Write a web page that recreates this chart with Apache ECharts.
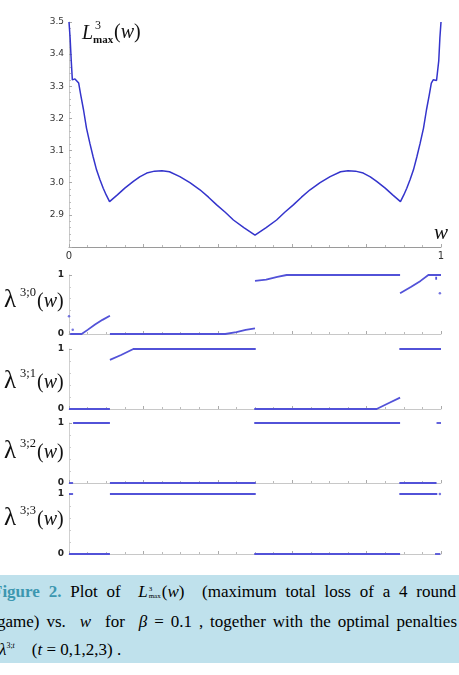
<!DOCTYPE html>
<html lang="en">
<head>
<meta charset="UTF-8">
<title>Figure 2</title>
<script src="https://cdn.jsdelivr.net/npm/echarts@6/dist/echarts.min.js"></script>
<style>
body{margin:0;padding:0;background:#fff;width:459px;height:675px;overflow:hidden;position:relative}
#main{position:absolute;left:0;top:0;width:459px;height:570px}
#caption{position:absolute;left:0;top:575px;width:459px;height:88px;background:#bfe1ec;overflow:hidden}
#caption div.ln{position:absolute;white-space:nowrap;font-family:"Liberation Serif",serif;font-size:17px;color:#000;text-align:justify;text-align-last:justify}
.fig{color:#3c97b0;font-weight:bold}
.ss{display:inline-block;vertical-align:middle;font-size:7px;line-height:7px;text-align:center;margin:0 1px}
</style>
</head>
<body>
<div id="main"></div>
<div id="caption">
  <div class="ln" style="left:-8px;top:7px;width:464px;"><span class="fig">Figure 2.</span> Plot of &nbsp;<i>L</i><span class="ss">3<br>max</span>(<i>w</i>)&nbsp; (maximum total loss of a 4 round</div>
  <div class="ln" style="left:-3px;top:37px;width:460px;">game) vs. &nbsp;<i>w</i>&nbsp; for &nbsp;<i>β</i> = 0.1 , together with the optimal penalties</div>
  <div class="ln" style="left:-1px;top:65px;text-align:left;text-align-last:left;"><i>λ</i><sup style="font-size:8px">3;<i>t</i></sup> &nbsp;&nbsp; (<i>t</i> = 0,1,2,3) .</div>
</div>
<script type="text/javascript">
// ---- data ----
var wTicks = [0, 1];
var lmaxY = [2.9, 3.0, 3.1, 3.2, 3.3, 3.4, 3.5];

var lmax = [
  [0,3.5],[0.003,3.45],[0.006,3.38],[0.009,3.32],[0.012,3.318],[0.016,3.323],[0.021,3.32],
  [0.026,3.31],[0.032,3.27],[0.039,3.227],[0.047,3.17],[0.056,3.123],[0.065,3.08],[0.074,3.04],
  [0.083,3.01],[0.092,2.983],[0.1,2.962],[0.109,2.941],[0.13,2.962],[0.15,2.983],[0.173,3.004],
  [0.19,3.018],[0.209,3.03],[0.23,3.036],[0.25,3.037],[0.27,3.034],[0.298,3.019],[0.325,3.0],
  [0.352,2.978],[0.375,2.955],[0.397,2.931],[0.42,2.908],[0.442,2.884],[0.47,2.86],[0.5,2.837],
  [0.53,2.86],[0.558,2.884],[0.58,2.908],[0.603,2.931],[0.625,2.955],[0.648,2.978],[0.675,3.0],
  [0.702,3.019],[0.73,3.034],[0.75,3.037],[0.77,3.036],[0.791,3.03],[0.81,3.018],[0.827,3.004],
  [0.85,2.983],[0.87,2.962],[0.891,2.941],[0.9,2.962],[0.908,2.983],[0.917,3.01],[0.926,3.04],
  [0.935,3.08],[0.944,3.123],[0.953,3.17],[0.961,3.227],[0.968,3.27],[0.974,3.31],[0.979,3.32],
  [0.984,3.323],[0.988,3.318],[0.991,3.32],[0.994,3.38],[0.997,3.45],[1,3.5]
];

// penalties, one list of pieces per panel
var lambda0 = [
  [[0.003,0],[0.034,0],[0.05,0.07],[0.07,0.16],[0.09,0.24],[0.11,0.31]],
  [[0.11,0],[0.42,0],[0.45,0.03],[0.475,0.07],[0.5,0.095]],
  [[0.5,0.9],[0.53,0.92],[0.56,0.97],[0.585,1],[0.89,1]],
  [[0.89,0.69],[0.92,0.8],[0.945,0.9],[0.966,1],[1,1]],
  [[0.987,0.97],[0.987,0.92]]
];
var lambda0Dots = [[0,0.3],[0.01,0.07],[0.997,0.69]];

var lambda1 = [
  [[0,0],[0.11,0]],
  [[0.11,0.82],[0.14,0.9],[0.173,1],[0.502,1]],
  [[0.498,0],[0.827,0],[0.86,0.1],[0.89,0.19]],
  [[0.888,1],[1,1]]
];

var lambda2 = [
  [[0,0],[0.011,0]],
  [[0.011,1],[0.11,1]],
  [[0.11,0],[0.502,0]],
  [[0.498,1],[0.89,1]],
  [[0.888,0],[0.988,0]],
  [[0.988,1],[1,1]]
];

var lambda3 = [
  [[0,1],[0.011,1]],
  [[0,0],[0.11,0]],
  [[0.11,1],[0.502,1]],
  [[0.498,0],[0.89,0]],
  [[0.888,1],[0.99,1]],
  [[0.984,0],[0.998,0]]
];
var lambda3Dots = [[0.997,1]];

var panels = [lambda0, lambda1, lambda2, lambda3];
var panelSup = ['3;0', '3;1', '3;2', '3;3'];

// ---- layout ----
var gridBoxes = [
  {left:69, right:18, top:22, height:225},
  {left:69, right:18, top:275, height:59},
  {left:69, right:18, top:349, height:60},
  {left:69, right:18, top:423, height:60},
  {left:69, right:18, top:494, height:60}
];
var labelY = [303, 384, 454, 521];

var blue = '#3434cc';
var lblue = '#5252d8';

function near(v, list) {
  for (var i = 0; i < list.length; i++) if (Math.abs(v - list[i]) < 1e-6) return true;
  return false;
}

var xAxis = [], yAxis = [], series = [], graphic = [];

gridBoxes.forEach(function (g, i) {
  xAxis.push({
    type: 'value', gridIndex: i, min: 0, max: 1, interval: 0.2,
    axisLine: {show: true, onZero: false, lineStyle: {color: i === 0 ? '#9a9a9a' : '#c8c8c8', width: 1}},
    axisTick: {show: true, inside: true, length: 3, lineStyle: {color: '#aaa'}},
    minorTick: {show: true, splitNumber: 4, length: 2, lineStyle: {color: '#bbb'}},
    splitLine: {show: false},
    axisLabel: {
      show: i === 0, margin: 4, fontSize: 10, color: '#333', fontFamily: 'DejaVu Sans',
      formatter: function (v) { return near(v, wTicks) ? String(Math.round(v)) : ''; }
    }
  });
  yAxis.push(i === 0 ? {
    type: 'value', gridIndex: 0, min: 2.8, max: 3.5, interval: 0.1,
    axisLine: {show: true, lineStyle: {color: '#c8c8c8'}},
    axisTick: {show: true, inside: true, length: 3, lineStyle: {color: '#aaa'}},
    minorTick: {show: true, splitNumber: 5, length: 2, lineStyle: {color: '#bbb'}},
    splitLine: {show: false},
    axisLabel: {
      margin: 5, fontSize: 9, color: '#333', fontFamily: 'DejaVu Sans',
      formatter: function (v) { return near(v, lmaxY) ? v.toFixed(1) : ''; }
    }
  } : {
    type: 'value', gridIndex: i, min: 0, max: 1, interval: 1,
    axisLine: {show: true, lineStyle: {color: '#d0d0d0'}},
    axisTick: {show: true, inside: true, length: 3, lineStyle: {color: '#aaa'}},
    minorTick: {show: true, splitNumber: 5, length: 2, lineStyle: {color: '#ccc'}},
    splitLine: {show: false},
    axisLabel: {margin: 5, fontSize: 9, fontWeight: 'bold', color: '#222', fontFamily: 'DejaVu Sans'}
  });
});

series.push({
  type: 'line', xAxisIndex: 0, yAxisIndex: 0, data: lmax, showSymbol: false,
  lineStyle: {color: blue, width: 1.5}, z: 3
});

panels.forEach(function (pieces, p) {
  pieces.forEach(function (seg) {
    series.push({
      type: 'line', xAxisIndex: p + 1, yAxisIndex: p + 1, data: seg, showSymbol: false,
      lineStyle: {color: lblue, width: 1.8}, z: 3
    });
  });
});
series.push({type: 'scatter', xAxisIndex: 1, yAxisIndex: 1, data: lambda0Dots,
  symbolSize: 2.5, itemStyle: {color: lblue}});
series.push({type: 'scatter', xAxisIndex: 4, yAxisIndex: 4, data: lambda3Dots,
  symbolSize: 2.5, itemStyle: {color: lblue}});

// text labels
var serif = '"Liberation Serif", "DejaVu Serif", serif';
graphic.push({type: 'text', left: 82, top: 24, style: {text: 'L', font: 'italic 20px ' + serif, fill: '#111'}});
graphic.push({type: 'text', left: 95, top: 20, style: {text: '3', font: '12px ' + serif, fill: '#111'}});
graphic.push({type: 'text', left: 93, top: 35, style: {text: 'max', font: 'bold 11px ' + serif, fill: '#111'}});
graphic.push({type: 'text', left: 114, top: 23, style: {
  text: '{n|(}{i|w}{n|)}',
  rich: {n: {font: '20px ' + serif, fill: '#111'}, i: {font: 'italic 20px ' + serif, fill: '#111'}}
}});
graphic.push({type: 'text', left: 434, top: 223, style: {text: 'w', font: 'italic 21px ' + serif, fill: '#111'}});

labelY.forEach(function (cy, k) {
  graphic.push({type: 'text', left: 4, top: cy - 15, style: {text: 'λ', font: '25px ' + serif, fill: '#111'}});
  graphic.push({type: 'text', left: 20, top: cy - 17, style: {text: panelSup[k], font: '12.5px ' + serif, fill: '#111'}});
  graphic.push({type: 'text', left: 37, top: cy - 11, style: {
    text: '{n|(}{i|w}{n|)}',
    rich: {n: {font: '20px ' + serif, fill: '#111'}, i: {font: 'italic 20px ' + serif, fill: '#111'}}
  }});
});

var myChart = echarts.init(document.getElementById('main'));
myChart.setOption({
  animation: false,
  grid: gridBoxes,
  xAxis: xAxis,
  yAxis: yAxis,
  series: series,
  graphic: graphic
});
</script>
</body>
</html>
